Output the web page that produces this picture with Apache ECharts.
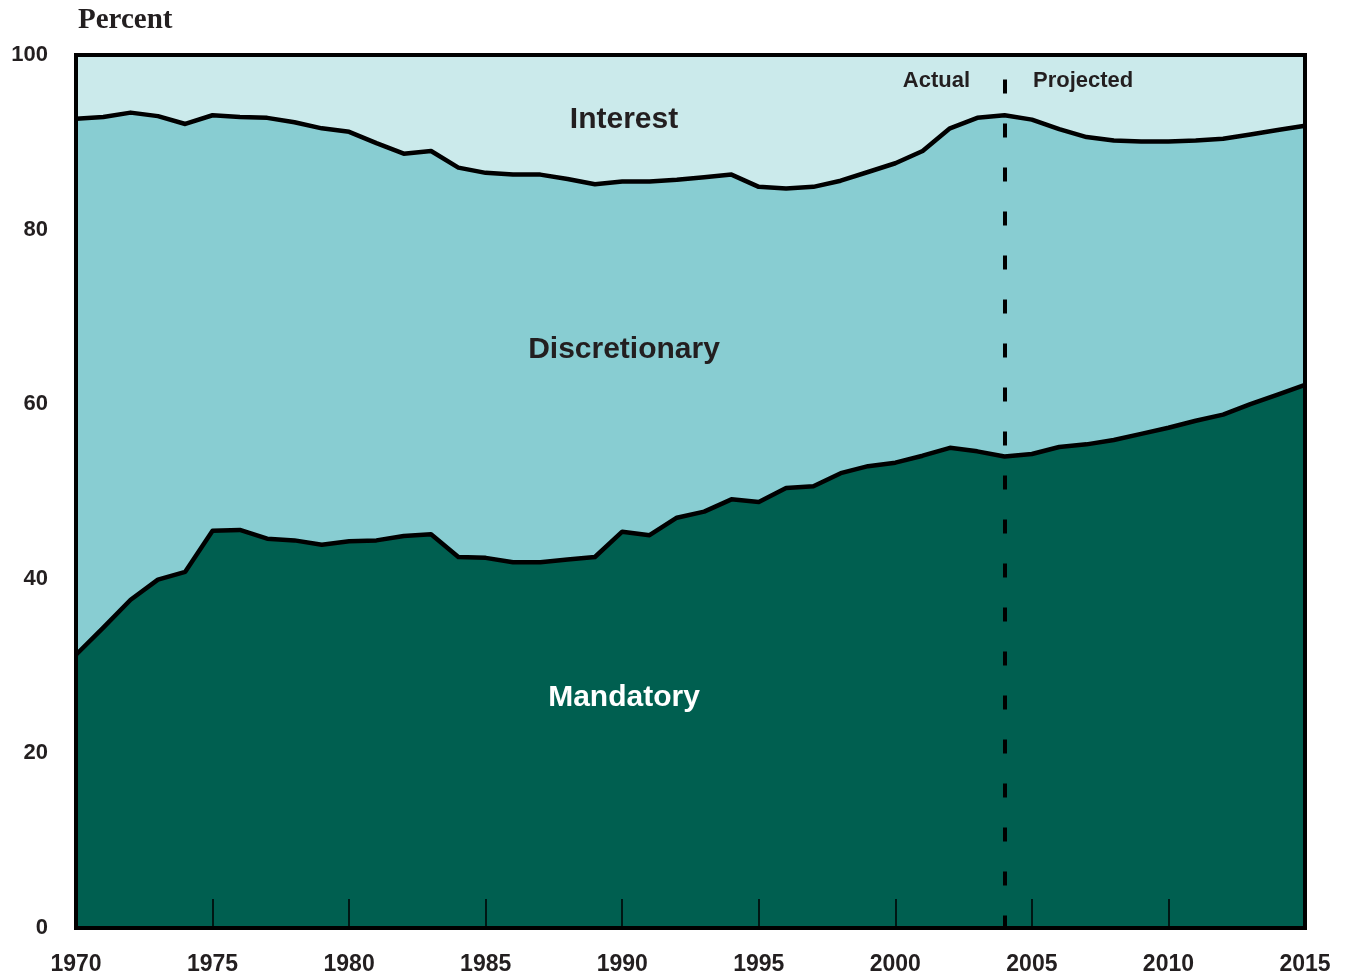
<!DOCTYPE html>
<html>
<head>
    <meta charset="utf-8">
    <title>Mandatory, discretionary and interest shares</title>
    <script src="https://cdn.jsdelivr.net/npm/echarts@6/dist/echarts.min.js"></script>
    <style>
        html, body { margin: 0; padding: 0; background: #fff; }
    </style>
</head>
<body>
    <div id="main" style="width: 1345px;height:979px;"></div>
    <script type="text/javascript">
        // years on the x axis
        var years = ['1970', '1971', '1972', '1973', '1974', '1975', '1976', '1977', '1978', '1979',
            '1980', '1981', '1982', '1983', '1984', '1985', '1986', '1987', '1988', '1989',
            '1990', '1991', '1992', '1993', '1994', '1995', '1996', '1997', '1998', '1999',
            '2000', '2001', '2002', '2003', '2004', '2005', '2006', '2007', '2008', '2009',
            '2010', '2011', '2012', '2013', '2014', '2015'];

        // shares of outlays, percent
        var mandatory = [31.3, 34.4, 37.6, 39.9, 40.8, 45.5, 45.6, 44.6, 44.4, 43.9,
            44.3, 44.4, 44.9, 45.1, 42.5, 42.4, 41.9, 41.9, 42.2, 42.5,
            45.4, 45.0, 47.0, 47.7, 49.1, 48.8, 50.4, 50.6, 52.1, 52.9,
            53.3, 54.1, 55.0, 54.6, 54.0, 54.3, 55.1, 55.4, 55.9, 56.6,
            57.3, 58.1, 58.8, 60.0, 61.1, 62.2];
        var discretionary = [61.4, 58.5, 55.8, 53.1, 51.3, 47.6, 47.3, 48.2, 47.9, 47.7,
            46.9, 45.5, 43.8, 43.9, 44.6, 44.1, 44.4, 44.4, 43.6, 42.7,
            40.1, 40.5, 38.7, 38.3, 37.2, 36.1, 34.3, 34.3, 33.5, 33.7,
            34.3, 34.9, 36.6, 38.2, 39.1, 38.3, 36.4, 35.2, 34.3, 33.5,
            32.8, 32.1, 31.6, 30.9, 30.3, 29.7];
        var interest = [7.3, 7.1, 6.6, 7.0, 7.9, 6.9, 7.1, 7.2, 7.7, 8.4,
            8.8, 10.1, 11.3, 11.0, 12.9, 13.5, 13.7, 13.7, 14.2, 14.8,
            14.5, 14.5, 14.3, 14.0, 13.7, 15.1, 15.3, 15.1, 14.4, 13.4,
            12.4, 11.0, 8.4, 7.2, 6.9, 7.4, 8.5, 9.4, 9.8, 9.9,
            9.9, 9.8, 9.6, 9.1, 8.6, 8.1];

        var splitYear = '2004';
        var seriesNames = ['Mandatory', 'Discretionary', 'Interest'];

        var FONT = "'Liberation Sans', Arial, sans-serif";
        var INK = '#231f20';

        var myChart = echarts.init(document.getElementById('main'));

        var option = {
            animation: false,
            grid: {
                left: 76, right: 40, top: 55, bottom: 51,
                show: true, z: 10,
                borderColor: '#000', borderWidth: 4,
                backgroundColor: 'transparent'
            },
            xAxis: {
                type: 'category', data: years, boundaryGap: false, z: 10,
                axisLine: { show: false },
                axisTick: { inside: true, length: 29, interval: 4, lineStyle: { color: '#000', width: 1.5 } },
                splitLine: { show: false },
                axisLabel: {
                    interval: 4, margin: 25, color: INK, fontFamily: FONT, fontWeight: 'bold', fontSize: 23
                }
            },
            yAxis: {
                type: 'value', min: 0, max: 100, interval: 20, z: 10,
                axisLine: { show: false },
                axisTick: { inside: true, length: 29, lineStyle: { color: '#000', width: 1.5 } },
                splitLine: { show: false },
                axisLabel: {
                    margin: 28, padding: [4, 0, 0, 0],
                    color: INK, fontFamily: FONT, fontWeight: 'bold', fontSize: 22
                }
            },
            graphic: [
                { type: 'text', left: 78, top: 6, z: 100,
                  style: { text: 'Percent', fill: INK, font: "bold 29px 'Liberation Serif', serif" } },
                { type: 'text', x: 624, y: 120, z: 100,
                  style: { text: 'Interest', fill: INK, font: 'bold 30px ' + FONT, textAlign: 'center', textVerticalAlign: 'middle' } },
                { type: 'text', x: 624, y: 350, z: 100,
                  style: { text: 'Discretionary', fill: INK, font: 'bold 30px ' + FONT, textAlign: 'center', textVerticalAlign: 'middle' } },
                { type: 'text', x: 624, y: 698, z: 100,
                  style: { text: 'Mandatory', fill: '#fff', font: 'bold 30px ' + FONT, textAlign: 'center', textVerticalAlign: 'middle' } },
                { type: 'text', x: 970, y: 81, z: 100,
                  style: { text: 'Actual', fill: INK, font: 'bold 22px ' + FONT, textAlign: 'right', textVerticalAlign: 'middle' } },
                { type: 'text', x: 1033, y: 81, z: 100,
                  style: { text: 'Projected', fill: INK, font: 'bold 22px ' + FONT, textAlign: 'left', textVerticalAlign: 'middle' } }
            ],
            series: [
                {
                    name: seriesNames[0], type: 'line', stack: 'share', data: mandatory,
                    symbol: 'none', z: 2, lineStyle: { width: 0 },
                    areaStyle: { color: '#005f50', opacity: 1 }
                },
                {
                    name: seriesNames[1], type: 'line', stack: 'share', data: discretionary,
                    symbol: 'none', z: 2, lineStyle: { width: 0 },
                    areaStyle: { color: '#88cdd2', opacity: 1 }
                },
                {
                    name: seriesNames[2], type: 'line', stack: 'share', data: interest,
                    symbol: 'none', z: 2, lineStyle: { width: 0 },
                    areaStyle: { color: '#cbeaeb', opacity: 1 }
                },
                // black boundary lines on top of the areas
                {
                    type: 'line', stack: 'edge', data: mandatory, symbol: 'none', z: 4,
                    lineStyle: { color: '#000', width: 4.5, join: 'round' },
                    markLine: {
                        silent: true, symbol: 'none', label: { show: false },
                        lineStyle: { color: '#000', width: 4, type: [14, 30] },
                        data: [[{ coord: [splitYear, 97.2] }, { coord: [splitYear, 0] }]]
                    }
                },
                {
                    type: 'line', stack: 'edge', data: discretionary, symbol: 'none', z: 4,
                    lineStyle: { color: '#000', width: 4.5, join: 'round' }
                }
            ]
        };

        myChart.setOption(option);
    </script>
</body>
</html>
